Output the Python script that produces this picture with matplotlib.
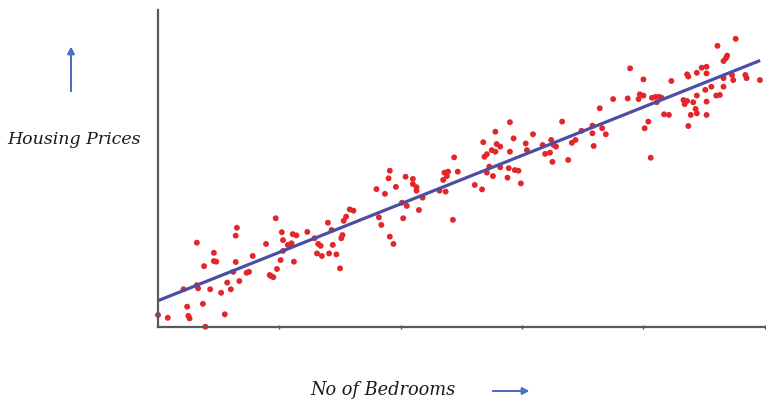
import matplotlib.pyplot as plt
import numpy as np

# 数据：卧室数量与房价（读图估计，任意单位）
bedrooms = [
    0.00, 0.08, 0.24, 0.25, 0.26, 0.39, 0.37, 0.55, 0.21, 0.32, 0.33, 0.43, 0.52, 0.57, 0.60,
    0.67, 0.38, 0.46, 0.48, 0.46, 0.32, 0.64, 0.64, 0.65, 0.62, 0.73, 0.75, 0.78, 0.89, 0.97,
    1.02, 1.03, 1.07, 1.11, 1.14, 1.10, 1.23, 1.01, 1.03, 1.12, 0.98, 0.93, 0.95, 0.92,
    1.29, 1.32, 1.34, 1.31, 1.35, 1.41, 1.47, 1.44, 1.40, 1.43, 1.51, 1.52, 1.53, 1.55, 1.58,
    1.61, 1.50, 1.82, 1.84, 1.91, 1.94, 1.80, 1.87, 1.90, 1.91, 1.96, 2.01, 2.05, 2.02, 2.04,
    2.10, 2.10, 2.13, 2.13, 2.18, 2.15, 2.32, 2.37, 2.35, 2.38, 2.36, 2.39, 2.44, 2.47, 2.43,
    2.61, 2.67, 2.68, 2.69, 2.71, 2.71, 2.73, 2.75, 2.78, 2.78, 2.79, 2.82, 2.76, 2.82, 2.88,
    2.90, 2.90, 2.89, 2.93, 2.94, 2.97, 2.99, 3.03, 3.04, 3.09, 3.17, 3.19, 3.23, 3.24, 3.26,
    3.28, 3.25, 3.33, 3.38, 3.41, 3.44, 3.49, 3.58, 3.58, 3.59, 3.64, 3.66, 3.69,
    3.75, 3.87, 3.89, 3.96, 3.97, 4.00, 4.00, 4.07, 4.10, 4.13, 4.15, 4.11, 4.04, 4.01, 4.06,
    4.17, 4.21, 4.23, 4.33, 4.34, 4.36, 4.36, 4.37, 4.37, 4.39, 4.41, 4.43, 4.44, 4.44, 4.44,
    4.48, 4.52, 4.52, 4.51, 4.52, 4.52, 4.56, 4.60, 4.63, 4.61, 4.66, 4.68, 4.69, 4.76, 4.66,
    4.66, 4.73, 4.74, 4.84, 4.85, 4.96,
]
prices = [
    3.8, 2.9, 6.4, 3.5, 2.7, 0.1, 7.3, 4.0, 11.9, 13.2, 12.2, 11.9, 10.8, 14.0, 11.9,
    14.5, 19.2, 20.8, 20.6, 23.4, 26.6, 20.5, 28.8, 31.3, 17.4, 17.1, 17.4, 22.4, 26.2, 34.3,
    29.9, 27.4, 25.9, 29.3, 28.9, 26.4, 30.0, 21.1, 24.0, 20.6, 18.3, 16.1, 15.7, 16.4,
    28.0, 26.2, 25.6, 23.2, 22.4, 23.2, 22.9, 25.9, 32.9, 30.6, 28.0, 29.0, 33.5, 34.8, 37.1,
    36.7, 18.5, 34.6, 32.2, 28.5, 26.2, 43.5, 42.0, 46.9, 49.3, 44.2, 39.2, 38.2, 34.3, 47.4,
    46.7, 45.1, 44.1, 43.0, 40.8, 36.9, 43.0, 42.7, 46.4, 47.6, 48.7, 49.0, 53.5, 49.0, 33.8,
    44.8, 43.4, 58.3, 53.7, 54.5, 48.7, 50.6, 55.8, 55.3, 61.6, 57.7, 56.9, 47.6, 50.4, 47.1,
    64.6, 55.3, 50.1, 59.5, 49.5, 49.3, 45.3, 57.9, 55.8, 60.8, 57.4, 54.6, 55.0, 59.0, 57.4,
    56.9, 52.1, 64.8, 52.7, 58.1, 59.0, 61.9, 63.5, 61.1, 57.1, 69.0, 62.7, 60.8,
    71.9, 72.1, 81.6, 71.9, 73.4, 73.0, 78.1, 72.3, 72.6, 72.6, 72.3, 70.9, 64.8, 62.7, 53.4,
    67.1, 66.9, 77.6, 71.6, 70.3, 71.3, 79.7, 79.0, 63.4, 66.9, 70.9, 68.8, 67.4, 80.2, 73.0,
    81.8, 82.1, 80.0, 74.8, 71.1, 66.9, 75.8, 73.0, 73.2, 88.7, 83.9, 84.8, 85.6, 90.9, 78.5,
    75.8, 79.5, 77.9, 79.5, 78.5, 77.9,
]

# 回归直线
line_x = [0.0, 4.95]
line_intercept = 8.3
line_slope = 15.27

fig = plt.figure(figsize=(7.66, 4.03), dpi=100)
ax = fig.add_axes([0.2063, 0.1886, 0.7937, 0.7866])

ax.scatter(bedrooms, prices, s=18, color='#e3262a', edgecolors='none', zorder=2, clip_on=False)
lx = np.array(line_x)
ax.plot(lx, line_intercept + line_slope * lx, color='#4b4fa3', linewidth=2.3, zorder=3)

ax.set_xlim(0, 5.01)
ax.set_ylim(0, 100)
ax.set_xticks([1, 2, 3, 4, 5])
ax.set_yticks([])
ax.tick_params(axis='x', direction='inout', length=3, width=1.0, color='#555555', labelbottom=False)

for side in ['top', 'right']:
    ax.spines[side].set_visible(False)
for side in ['left', 'bottom']:
    ax.spines[side].set_color('#5a5a5a')
    ax.spines[side].set_linewidth(1.6)

# 坐标轴说明文字与箭头
fig.text(74 / 766, 1 - 139 / 403, 'Housing Prices', family='DejaVu Serif', style='italic',
         fontsize=12.5, color='#1a1a1a', ha='center', va='center')
fig.text(383 / 766, 1 - 390 / 403, 'No of Bedrooms', family='DejaVu Serif', style='italic',
         fontsize=12.8, color='#1a1a1a', ha='center', va='center')

arrow_style = dict(arrowstyle='-|>', color='#4472c4', lw=1.3, mutation_scale=10)
fig.add_artist(plt.annotate('', xy=(71 / 766, 1 - 44 / 403), xytext=(71 / 766, 1 - 94 / 403),
                            xycoords='figure fraction', arrowprops=arrow_style))
fig.add_artist(plt.annotate('', xy=(532 / 766, 1 - 391 / 403), xytext=(490 / 766, 1 - 391 / 403),
                            xycoords='figure fraction', arrowprops=arrow_style))

plt.savefig('out.png', dpi=100)
